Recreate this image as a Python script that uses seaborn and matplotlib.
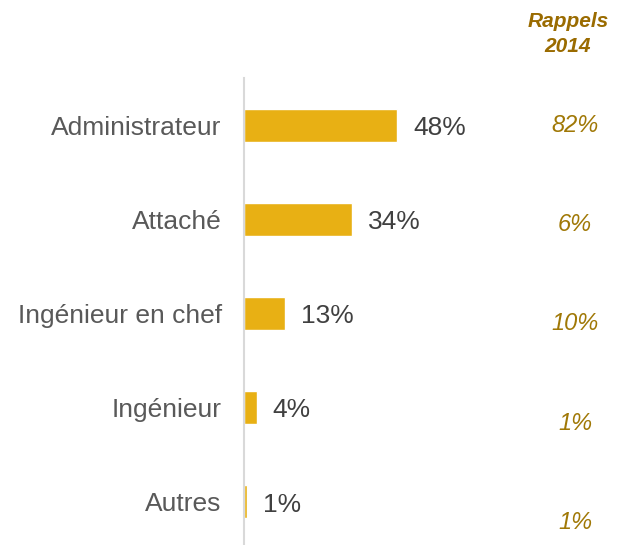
import matplotlib
matplotlib.use("Agg")
import matplotlib.pyplot as plt
import seaborn as sns
import pandas as pd

categories = ["Administrateur", "Attaché", "Ingénieur en chef", "Ingénieur", "Autres"]
values = [48, 34, 13, 4, 1]
rappels_2014 = [82, 6, 10, 1, 1]

df = pd.DataFrame({"categorie": categories, "part": values})

sns.set_style("white")
plt.rcParams['font.family'] = ['Liberation Sans', 'DejaVu Sans']

fig = plt.figure(figsize=(6.25, 5.45), dpi=100)
ax = fig.add_axes([244 / 625, 0, 319 / 625, 467 / 545])

sns.barplot(data=df, x="part", y="categorie", orient="h", color="#E8B014",
            width=0.35, saturation=1, ax=ax)

ax.set_xlim(0, 100)
ax.set_ylim(4.46, -0.5)
ax.set_xlabel("")
ax.set_ylabel("")
ax.set_xticks([])
ax.tick_params(axis="y", length=0, pad=16, labelsize=19, labelcolor="#595959")
for side in ["top", "right", "bottom"]:
    ax.spines[side].set_visible(False)
ax.spines["left"].set_color("#D9D9D9")
ax.spines["left"].set_linewidth(1.5)

# étiquettes de valeur
for i, v in enumerate(values):
    ax.text(v + 5, i + 0.03, f"{v}%", va="center", ha="left", fontsize=19, color="#404040")

# colonne des rappels 2014
gold = "#A07806"
for i, r in enumerate(rappels_2014):
    ax.annotate(f"{r}%", xy=(575 / 625, i * 1.055), xycoords=("figure fraction", "data"),
                ha="center", va="center", fontsize=17, style="italic", color=gold)

fig.text(568 / 625, 1 - 34 / 545, "Rappels\n2014", ha="center", va="center",
         fontsize=15, fontweight="bold", style="italic", color="#9A6B00", linespacing=1.35)

fig.savefig("out.png", dpi=100)
